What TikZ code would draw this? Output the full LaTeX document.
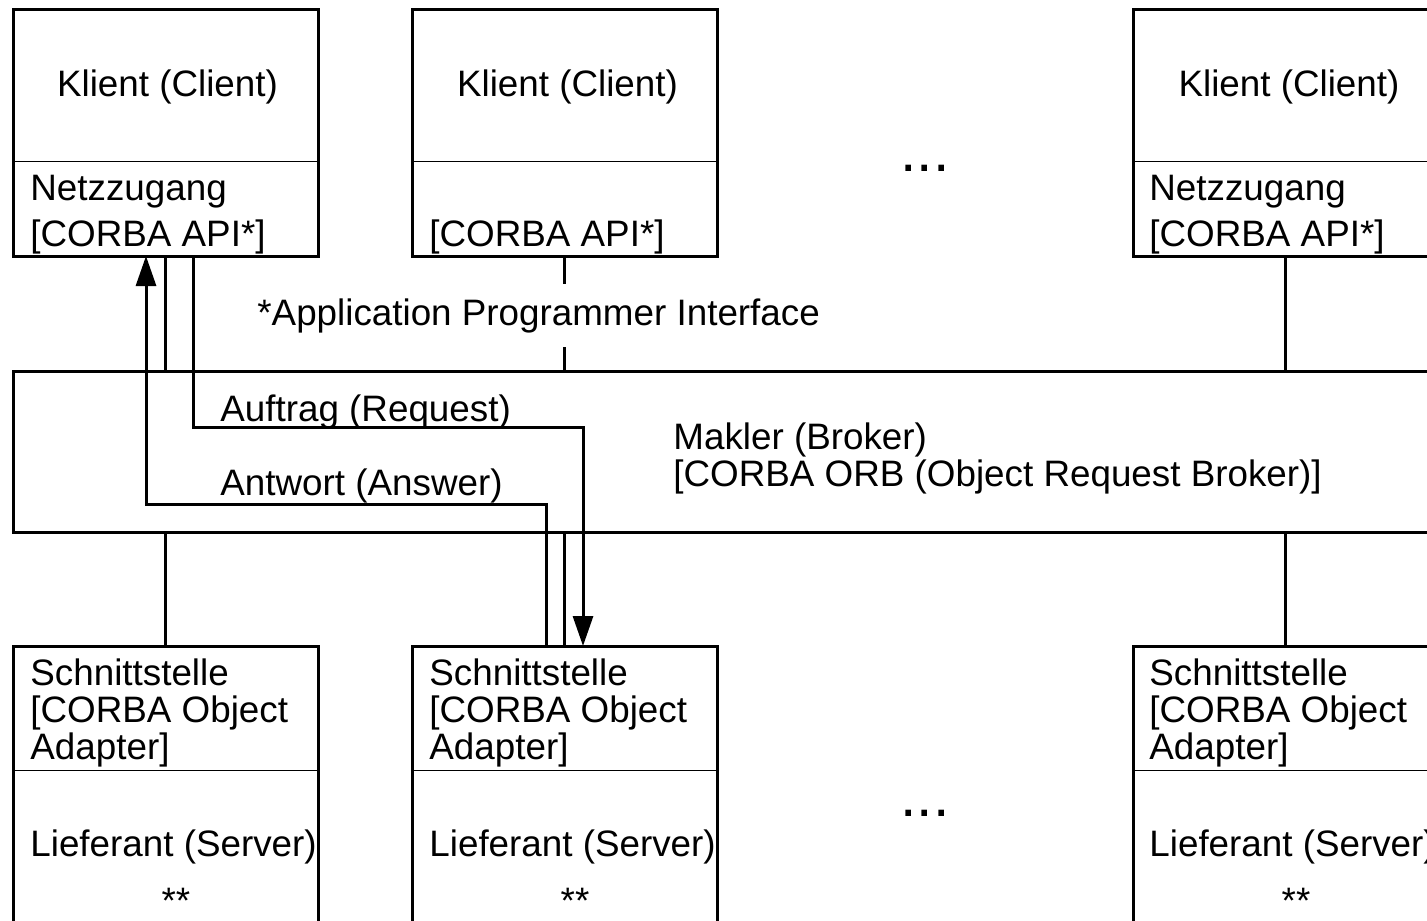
\documentclass[tikz,border=0pt]{standalone}
\usepackage{fontspec}
\setmainfont{Liberation Sans}
\usetikzlibrary{calc}
\usetikzlibrary{positioning}
\usetikzlibrary{arrows.meta}

\begin{document}
\begin{tikzpicture}[x=0.5pt,y=-0.5pt,
  box/.style={draw,line width=1.5pt,anchor=north west,inner sep=0pt,outer sep=0pt,minimum width=152.5pt},
  sep/.style={line width=0.5pt},
  wire/.style={line width=1.5pt},
  txt/.style={font=\fontsize{18.4pt}{18.3pt}\selectfont,inner sep=0pt,anchor=base west,align=left},
  blank/.style={txt,fill=white,inner xsep=1pt,inner ysep=0.7pt},
  msg/.style={wire,-{Triangle[length=15pt,width=10pt]}}]

\useasboundingbox (0,0) rectangle (1427,920);
\clip (0,0) rectangle (1427,920);

% Klienten oben
\node[box,minimum height=123pt] (k1) at (13,10) {};
\node[box,minimum height=123pt] (k2) at (412,10) {};
\node[box,minimum height=123pt] (k3) at (1133,10) {};
\draw[sep] ([yshift=-75.5pt]k1.north west) -- ([yshift=-75.5pt]k1.north east);
\draw[sep] ([yshift=-75.5pt]k2.north west) -- ([yshift=-75.5pt]k2.north east);
\draw[sep] ([yshift=-75.5pt]k3.north west) -- ([yshift=-75.5pt]k3.north east);

\node[txt,anchor=base] (k1name) at (167.5,97) {Klient (Client)};
\node[txt,anchor=base] (k2name) at (567.5,97) {Klient (Client)};
\node[txt,anchor=base] (k3name) at (1289,97) {Klient (Client)};

\node[txt] (k1net) at (30,200) {Netzzugang};
\node[blank] (k1api) at (28,246) {[CORBA API*]};
\node[blank] (k2api) at (427,246) {[CORBA API*]};
\node[txt] (k3net) at (1149,200) {Netzzugang};
\node[blank] (k3api) at (1147,246) {[CORBA API*]};

\node[font=\fontsize{29.5pt}{30pt}\selectfont,inner sep=0pt,anchor=base] (morek) at (925,171) {...};

% Makler (base = letzte Zeile)
\node[box,minimum width=714pt,minimum height=80.5pt] (mk) at (13,371) {};
\node[txt] (mkname) at (673,486) {Makler (Broker)\\{}[CORBA ORB (Object Request Broker)]};

% Lieferanten unten
\node[box,minimum height=147pt] (s1) at (13,646) {};
\node[box,minimum height=147pt] (s2) at (412,646) {};
\node[box,minimum height=147pt] (s3) at (1133,646) {};

\node[txt] (s1oa) at (30,759) {Schnittstelle\\{}[CORBA Object\\Adapter]};
\node[txt] (s2oa) at (429,759) {Schnittstelle\\{}[CORBA Object\\Adapter]};
\node[txt] (s3oa) at (1149,759) {Schnittstelle\\{}[CORBA Object\\Adapter]};
\draw[sep] ([yshift=-62pt]s1.north west) -- ([yshift=-62pt]s1.north east);
\draw[sep] ([yshift=-62pt]s2.north west) -- ([yshift=-62pt]s2.north east);
\draw[sep] ([yshift=-62pt]s3.north west) -- ([yshift=-62pt]s3.north east);

\node[txt] (s1name) at (30,856) {Lieferant (Server)};
\node[txt] (s2name) at (429,856) {Lieferant (Server)};
\node[txt] (s3name) at (1149,856) {Lieferant (Server)};
\node[txt,anchor=base] (s1mark) at (176,913) {**};
\node[txt,anchor=base] (s2mark) at (575,913) {**};
\node[txt,anchor=base] (s3mark) at (1296,913) {**};

\node[font=\fontsize{29.5pt}{30pt}\selectfont,inner sep=0pt,anchor=base] (mores) at (925,816) {...};

% Verbindungen zum Makler
\draw[wire] (k1.south) -- (k1.south |- mk.north);
\draw[wire] (k2.south) -- (k2.south |- mk.north);
\draw[wire] (k3.south) -- (k3.south |- mk.north);
\draw[wire] (s1.north) -- (s1.north |- mk.south);
\draw[wire] (s2.north) -- (s2.north |- mk.south);
\draw[wire] (s3.north) -- (s3.north |- mk.south);

\node[blank,inner ysep=7pt] (apinote) at (255,325) {*Application Programmer Interface};

% Auftrag und Antwort
\coordinate (reqturn) at (583,427);
\coordinate (ansturn) at (146,504);
\draw[msg] ([xshift=13.75pt]k1.south) |- (reqturn) -- (reqturn |- s2.north);
\draw[msg] ([xshift=-9pt]s2.north) |- (ansturn) -- (ansturn |- k1.south);
\node[txt] (req) at (220,421) {Auftrag (Request)};
\node[txt] (ans) at (220,495) {Antwort (Answer)};

\end{tikzpicture}
\end{document}
